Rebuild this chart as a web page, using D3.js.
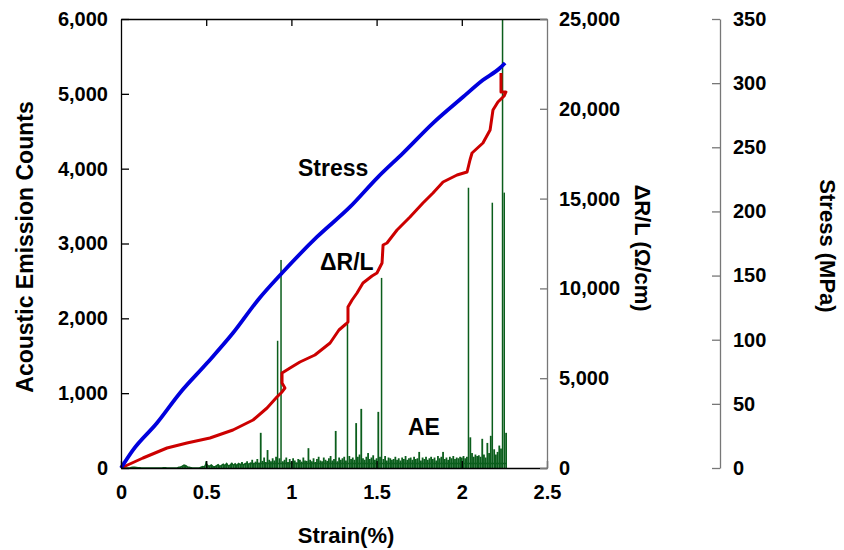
<!DOCTYPE html>
<html>
<head>
<meta charset="utf-8">
<script src="https://cdn.jsdelivr.net/npm/d3@7"></script>
<style>
  body { margin: 0; background: #fff; }
  svg text { font-family: "Liberation Sans", Arial, sans-serif; font-weight: bold; fill: #000; }
</style>
</head>
<body>
<div id="chart"></div>
<script>
// tick values
const strainTicks = [0, 0.5, 1, 1.5, 2, 2.5];
const aeTicks = [0, 1000, 2000, 3000, 4000, 5000, 6000];
const resTicks = [0, 5000, 10000, 15000, 20000, 25000];
const stressTicks = [0, 50, 100, 150, 200, 250, 300, 350];

// stress curve (MPa) vs strain (%)
const stressStrain = [0, 0.07, 0.211, 0.346, 0.505, 0.657, 0.804, 0.945, 1.15, 1.344, 1.508, 1.655, 1.831, 2.007, 2.124, 2.224, 2.254];
const stressMPa = [0, 14, 35.1, 58.5, 81.8, 105.2, 131, 152, 180.1, 203.5, 226.8, 245.5, 268.9, 289.2, 302.4, 311.8, 315.7];

// resistance change dR/L (ohm/cm) vs strain (%)
const resStrain = [0, 0.129, 0.27, 0.387, 0.522, 0.657, 0.775, 0.857, 0.915, 0.945, 0.962, 0.945, 0.945,
  0.992, 1.05, 1.138, 1.227, 1.279, 1.32, 1.332, 1.332, 1.356, 1.385, 1.42, 1.473, 1.502, 1.532, 1.538,
  1.561, 1.62, 1.696, 1.772, 1.831, 1.89, 1.972, 2.031, 2.048, 2.06, 2.124, 2.166, 2.183, 2.212, 2.248,
  2.259, 2.23, 2.23];
const resValue = [0, 557, 1114, 1392, 1670, 2116, 2673, 3341, 3953, 4232, 4454, 4733, 5290,
  5568, 5902, 6292, 6960, 7684, 8018, 8129, 8964, 9354, 9744, 10301, 10691, 10858, 11414, 12416,
  12528, 13252, 13976, 14755, 15312, 15924, 16314, 16481, 17149, 17539, 18096, 18820, 19933, 20379, 20713,
  20936, 20936, 21994];

// acoustic emission counts, one bin every 0.01 % strain starting at 0
const aeStep = 0.01;
const aeCounts = [
  0, 0, 0, 0, 0, 0, 8, 10, 10, 8,
  5, 5, 0, 0, 0, 0, 0, 0, 0, 0,
  0, 0, 0, 0, 0, 5, 5, 0, 0, 0,
  0, 0, 0, 0, 10, 15, 25, 40, 30, 15,
  10, 5, 0, 0, 0, 0, 0, 10, 20, 15,
  90, 30, 25, 40, 20, 15, 30, 45, 20, 35,
  50, 30, 60, 25, 40, 70, 35, 55, 30, 60,
  45, 80, 40, 65, 90, 50, 75, 110, 60, 85,
  120, 70, 470, 95, 140, 80, 240, 110, 90, 130,
  100, 150, 1700, 130, 2780, 90, 110, 140, 80, 120,
  90, 130, 100, 75, 120, 110, 85, 140, 100, 95,
  265, 110, 90, 130, 80, 120, 150, 100, 90, 140,
  110, 95, 130, 160, 100, 120, 495, 90, 140, 110,
  130, 150, 100, 1950, 160, 120, 140, 110, 600, 150,
  180, 790, 130, 110, 150, 200, 120, 140, 170, 110,
  130, 750, 150, 2540, 120, 160, 100, 140, 130, 110,
  120, 150, 110, 130, 100, 140, 120, 160, 110, 130,
  140, 110, 150, 120, 130, 215, 100, 140, 120, 150,
  110, 130, 150, 120, 140, 100, 160, 130, 150, 215,
  120, 140, 110, 150, 130, 160, 120, 140, 130, 150,
  140, 160, 130, 150, 3745, 410, 200, 150, 180, 160,
  170, 150, 390, 180, 140, 335, 200, 430, 3545, 250,
  180, 215, 300, 260, 6000, 3680, 470
];

const width = 844, height = 550;
const plot = { left: 121, right: 547, top: 19, bottom: 468 };
const stressAxisX = 720;

const svg = d3.select("#chart").append("svg")
  .attr("width", width)
  .attr("height", height);

const x = d3.scaleLinear().domain([0, 2.5]).range([plot.left, plot.right]);
const yAE = d3.scaleLinear().domain([0, 6000]).range([plot.bottom, plot.top]);
const yRes = d3.scaleLinear().domain([0, 25000]).range([plot.bottom, plot.top]);
const yStress = d3.scaleLinear().domain([0, 350]).range([plot.bottom, plot.top]);

// AE bars
const aeData = aeCounts.map((c, i) => ({ s: i * aeStep, c: c }));
svg.append("g")
  .selectAll("rect")
  .data(aeData.filter(d => d.c > 0))
  .join("rect")
  .attr("x", d => x(d.s) - 0.9)
  .attr("width", d => d.c > 1000 ? 1.5 : 1.8)
  .attr("y", d => yAE(d.c))
  .attr("height", d => yAE(0) - yAE(d.c))
  .attr("fill", "#0b5e1c");

// baseline trace of the AE signal
svg.append("path")
  .datum(aeData)
  .attr("fill", "none")
  .attr("stroke", "#0b5e1c")
  .attr("stroke-width", 1.5)
  .attr("d", d3.line().x(d => x(d.s)).y(d => yAE(Math.min(d.c, 60))));

// resistance curve
svg.append("path")
  .datum(resStrain.map((s, i) => [s, resValue[i]]))
  .attr("fill", "none")
  .attr("stroke", "#cc0000")
  .attr("stroke-width", 3)
  .attr("stroke-linejoin", "round")
  .attr("d", d3.line().x(d => x(d[0])).y(d => yRes(d[1])));

// stress curve
svg.append("path")
  .datum(stressStrain.map((s, i) => [s, stressMPa[i]]))
  .attr("fill", "none")
  .attr("stroke", "#0000dd")
  .attr("stroke-width", 3.8)
  .attr("stroke-linejoin", "round")
  .attr("d", d3.line().curve(d3.curveMonotoneX).x(d => x(d[0])).y(d => yStress(d[1])));

// axes
const fmt = d3.format(",");

const leftAxis = svg.append("g")
  .attr("transform", `translate(${plot.left},0)`)
  .call(d3.axisLeft(yAE).tickValues(aeTicks).tickFormat(fmt).tickSize(-8).tickSizeOuter(0).tickPadding(13));

const bottomAxis = svg.append("g")
  .attr("transform", `translate(0,${plot.bottom})`)
  .call(d3.axisBottom(x).tickValues(strainTicks).tickFormat(d => String(d)).tickSize(-7).tickSizeOuter(0).tickPadding(17));

const topAxis = svg.append("g")
  .attr("transform", `translate(0,${plot.top})`)
  .call(d3.axisTop(x).tickValues(strainTicks.slice(1, -1)).tickFormat("").tickSize(-7).tickSizeOuter(0));

const resAxis = svg.append("g")
  .attr("transform", `translate(${plot.right},0)`)
  .call(d3.axisRight(yRes).tickValues(resTicks).tickFormat(fmt).tickSize(-7).tickSizeOuter(0).tickPadding(12));

const stressAxis = svg.append("g")
  .attr("transform", `translate(${stressAxisX},0)`)
  .call(d3.axisRight(yStress).tickValues(stressTicks).tickFormat(fmt).tickSize(-8).tickSizeOuter(0).tickPadding(13));

[leftAxis, bottomAxis, topAxis].forEach(g => {
  g.selectAll("path, line").attr("stroke", "#000").attr("stroke-width", 1.3);
});
[resAxis, stressAxis].forEach(g => {
  g.selectAll("path, line").attr("stroke", "#777").attr("stroke-width", 1.3);
});
svg.selectAll(".tick text")
  .attr("font-size", 20)
  .attr("font-family", "'Liberation Sans', Arial, sans-serif")
  .attr("font-weight", "bold")
  .attr("fill", "#000");

// axis titles
svg.append("text")
  .attr("transform", `translate(33,247) rotate(-90)`)
  .attr("text-anchor", "middle")
  .attr("font-size", 23)
  .text("Acoustic Emission Counts");

svg.append("text")
  .attr("transform", `translate(635,248) rotate(90)`)
  .attr("text-anchor", "middle")
  .attr("font-size", 22)
  .text("ΔR/L (Ω/cm)");

svg.append("text")
  .attr("transform", `translate(820,246) rotate(90)`)
  .attr("text-anchor", "middle")
  .attr("font-size", 22)
  .text("Stress (MPa)");

svg.append("text")
  .attr("x", 346)
  .attr("y", 543)
  .attr("text-anchor", "middle")
  .attr("font-size", 22)
  .text("Strain(%)");

// curve labels
svg.append("text").attr("x", 298).attr("y", 176).attr("font-size", 23).text("Stress");
svg.append("text").attr("x", 320).attr("y", 270).attr("font-size", 23).text("ΔR/L");
svg.append("text").attr("x", 408).attr("y", 435).attr("font-size", 23).text("AE");
</script>
</body>
</html>
